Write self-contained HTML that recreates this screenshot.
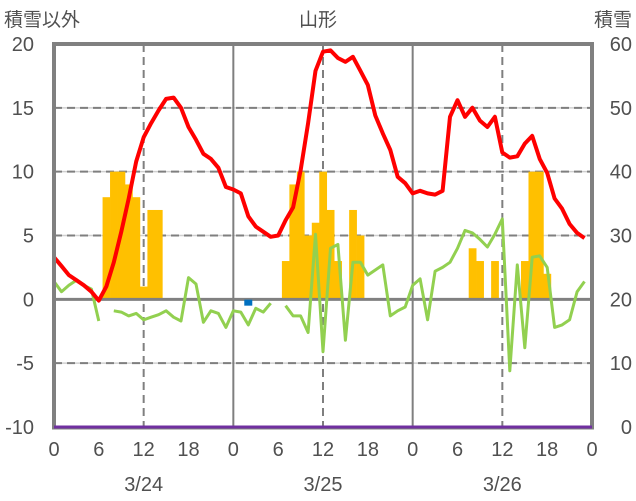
<!DOCTYPE html>
<html><head><meta charset="utf-8"><style>
html,body{margin:0;padding:0;background:#fff;}
svg{display:block;font-family:"Liberation Sans","Noto Sans CJK JP",sans-serif;}
</style></head><body>
<svg id="chart" width="636" height="501" viewBox="0 0 636 501"></svg>
<script>
const hourLabels=["0","6","12","18","0","6","12","18","0","6","12","18","0"];
const dateLabels=["3/24","3/25","3/26"];
const leftTicks=[20,15,10,5,0,-5,-10];
const rightTicks=[60,50,40,30,20,10,0];
const temperature=[3.3,2.6,1.9,1.5,1.1,0.6,-0.1,1.0,2.9,5.3,7.9,10.8,12.7,13.8,14.8,15.7,15.8,15.0,13.5,12.5,11.4,11.0,10.3,8.8,
8.6,8.3,6.5,5.7,5.3,4.9,5.0,6.2,7.2,10.1,13.8,17.9,19.4,19.5,18.9,18.6,19.0,17.9,16.8,14.4,13.0,11.7,9.6,9.1,
8.3,8.5,8.3,8.2,8.5,14.3,15.6,14.3,15.0,14.0,13.5,14.3,11.5,11.1,11.2,12.2,12.8,11.0,9.9,7.9,7.1,5.9,5.2,4.8];
const wind=[1.4,0.6,1.1,1.5,1.1,0.8,-1.7,null,-0.9,-1.0,-1.3,-1.1,-1.6,-1.4,-1.2,-0.9,-1.4,-1.7,1.7,1.2,-1.8,-0.9,-1.1,-2.2,
-0.9,-1.0,-2.0,-0.7,-1.0,-0.3,null,-0.5,-1.3,-1.3,-2.6,5.1,-4.1,4.0,4.3,-3.2,2.9,2.9,1.9,2.3,2.7,-1.3,-0.9,-0.6,
1.1,1.6,-1.6,2.2,2.5,2.9,4.0,5.4,5.2,4.7,4.1,5.1,6.3,-5.6,2.7,-3.8,3.3,3.4,2.5,-2.2,-2.0,-1.6,0.6,1.4];
const snowHours=[7,8,9,10,11,12,13,14,31,32,33,34,35,36,37,38,40,41,56,57,59,63,64,65,66];
const snowDepth=[36,40,40,38,36,22,34,34,26,38,40,30,32,40,34,26,34,30,28,26,26,26,40,40,24];
const blueHours=[26];
const blueValues=[-0.3];
const baseLine=[-10,-10];

const svg=document.getElementById('chart');
const NS='http://www.w3.org/2000/svg';
const X0=54,X1=592,Ytop=44,Ybot=427;
function xH(h){return X0+(X1-X0)*h/72;}
function yL(v){return Ybot-(v+10)/30*(Ybot-Ytop);}
function yR(v){return Ybot-v/60*(Ybot-Ytop);}
function mk(tag,attrs,parent){const e=document.createElementNS(NS,tag);for(const k in attrs)e.setAttribute(k,attrs[k]);(parent||svg).appendChild(e);return e;}

leftTicks.forEach(v=>{
  if(v===20||v===-10||v===0)return;
  const g=mk('line',{x1:X0,x2:X1,y1:yL(v),y2:yL(v),stroke:'#d0d0d0','stroke-width':1.5});
  
  
  const d=mk('line',{x1:X0,x2:X1,y1:yL(v),y2:yL(v),stroke:'#7f7f7f','stroke-width':2,'stroke-dasharray':'8,5'});
  
  
});
[12,36,60].forEach(h=>{
  const d=mk('line',{x1:xH(h),x2:xH(h),y1:Ytop,y2:Ybot,stroke:'#7f7f7f','stroke-width':2,'stroke-dasharray':'8,5'});
  
  
});
[24,48].forEach(h=>{
  const d=mk('line',{x1:xH(h),x2:xH(h),y1:Ytop,y2:Ybot,stroke:'#7f7f7f','stroke-width':2});
  
  
});

const bw=(X1-X0)/72;
snowHours.forEach((h,i)=>{
  const v=snowDepth[i];
  const y0=yR(20),y1=yR(v);
  const r=mk('rect',{x:xH(h)-bw/2,y:Math.min(y0,y1),width:bw+0.3,height:Math.abs(y0-y1),fill:'#ffc000'});
  
  
});

const z=mk('line',{x1:X0,x2:X1,y1:yL(0),y2:yL(0),stroke:'#808080','stroke-width':3});



let segs=[],cur=[];
wind.forEach((v,h)=>{if(v===null){if(cur.length)segs.push(cur);cur=[];}else cur.push(xH(h).toFixed(1)+','+yL(v).toFixed(1));});
if(cur.length)segs.push(cur);
segs.forEach(s=>{
  const p=mk('polyline',{points:s.join(' '),fill:'none',stroke:'#92d050','stroke-width':3,'stroke-linejoin':'round'});
  
  
});

blueHours.forEach((h,i)=>{
  const r=mk('rect',{x:xH(h)-4,y:yL(blueValues[i])-3.5,width:8,height:6,fill:'#0070c0'});
  
  
});

const tp=mk('polyline',{points:temperature.map((v,h)=>xH(h).toFixed(1)+','+yL(v).toFixed(1)).join(' '),fill:'none',stroke:'#ff0000','stroke-width':4,'stroke-linejoin':'round'});



const fr=mk('path',{d:`M${X0},${Ybot+1} V${Ytop} H${X1} V${Ybot+1}`,fill:'none',stroke:'#808080','stroke-width':4});


const bl=mk('line',{x1:X0-2,x2:X1+2,y1:Ybot+1,y2:Ybot+1,stroke:'#808080','stroke-width':3});


const pl=mk('line',{x1:X0,x2:X1,y1:yL(baseLine[0]),y2:yL(baseLine[1]),stroke:'#7030a0','stroke-width':3});



leftTicks.forEach(v=>{
  const t=mk('text',{x:34,y:yL(v)+7,'text-anchor':'end','font-size':20,fill:'#505050'});
  t.textContent=v;
  
  
});
rightTicks.forEach(v=>{
  const t=mk('text',{x:632,y:yR(v)+7,'text-anchor':'end','font-size':20,fill:'#505050'});
  t.textContent=v;
  
  
});
hourLabels.forEach((s,i)=>{
  const t=mk('text',{x:xH(i*6),y:456,'text-anchor':'middle','font-size':20,fill:'#505050'});
  t.textContent=s;
  
  
});
dateLabels.forEach((s,i)=>{
  const t=mk('text',{x:xH(i*24+12),y:491,'text-anchor':'middle','font-size':20,fill:'#505050'});
  t.textContent=s;
  
  
});
[['積雪以外',4,'start','left-axis-title'],['山形',318,'middle','chart-title'],['積雪',632,'end','right-axis-title']].forEach(a=>{
  const t=mk('text',{x:a[1],y:26,'text-anchor':a[2],'font-size':19,fill:'#505050','font-family':'"Noto Sans CJK JP",sans-serif'});
  t.textContent=a[0];
  
  
});
</script>
</body></html>
